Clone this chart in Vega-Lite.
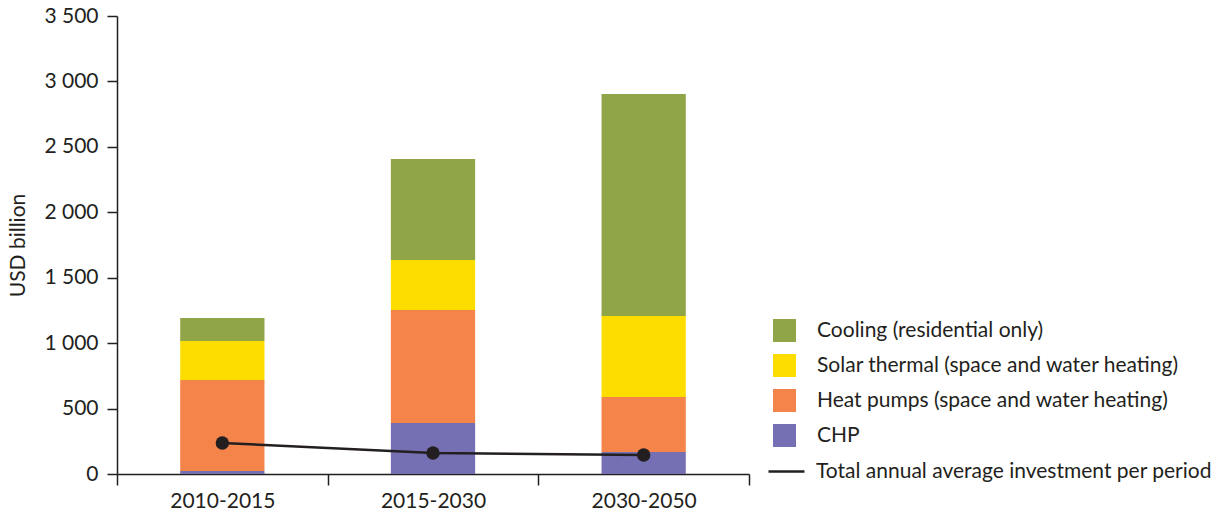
{
  "$schema": "https://vega.github.io/schema/vega-lite/v6.json",
  "width": 632,
  "height": 458,
  "autosize": {"type": "none"},
  "padding": {"left": 117, "top": 16, "right": 463, "bottom": 42},
  "background": "white",
  "config": {
    "view": {"stroke": null},
    "font": "Lato",
    "axis": {"labelColor": "#231f20", "titleColor": "#231f20", "domainColor": "#231f20", "tickColor": "#231f20", "labelFont": "Lato", "titleFont": "Lato"},
    "legend": {"labelFont": "Lato", "labelColor": "#231f20", "padding": 0}
  },
  "datasets": {
    "bars": [
      {"period": "2010-2015", "category": "CHP", "stack": 1, "value": 22},
      {"period": "2010-2015", "category": "Heat pumps (space and water heating)", "stack": 2, "value": 696},
      {"period": "2010-2015", "category": "Solar thermal (space and water heating)", "stack": 3, "value": 298},
      {"period": "2010-2015", "category": "Cooling (residential only)", "stack": 4, "value": 176},
      {"period": "2015-2030", "category": "CHP", "stack": 1, "value": 390},
      {"period": "2015-2030", "category": "Heat pumps (space and water heating)", "stack": 2, "value": 863},
      {"period": "2015-2030", "category": "Solar thermal (space and water heating)", "stack": 3, "value": 382},
      {"period": "2015-2030", "category": "Cooling (residential only)", "stack": 4, "value": 772},
      {"period": "2030-2050", "category": "CHP", "stack": 1, "value": 168},
      {"period": "2030-2050", "category": "Heat pumps (space and water heating)", "stack": 2, "value": 420},
      {"period": "2030-2050", "category": "Solar thermal (space and water heating)", "stack": 3, "value": 619},
      {"period": "2030-2050", "category": "Cooling (residential only)", "stack": 4, "value": 1696}
    ],
    "total": [
      {"period": "2010-2015", "series": "Total annual average investment per period", "value": 237},
      {"period": "2015-2030", "series": "Total annual average investment per period", "value": 160},
      {"period": "2030-2050", "series": "Total annual average investment per period", "value": 145}
    ]
  },
  "encoding": {
    "x": {
      "field": "period", "type": "nominal",
      "scale": {"paddingInner": 0, "paddingOuter": 0},
      "axis": {"title": null, "labelAngle": 0, "labelFontSize": 21, "labelPadding": 5, "tickSize": 11, "tickBand": "extent", "domainWidth": 1.5, "tickWidth": 1.5}
    }
  },
  "layer": [
    {
      "data": {"name": "bars"},
      "mark": {"type": "bar", "width": {"band": 0.4}},
      "encoding": {
        "y": {
          "field": "value", "type": "quantitative", "stack": "zero",
          "scale": {"domain": [0, 3500]},
          "axis": {"title": "USD billion", "titleFontSize": 21, "titleFontWeight": "normal", "titlePadding": 15, "values": [0, 500, 1000, 1500, 2000, 2500, 3000, 3500], "labelExpr": "replace(format(datum.value, ','), ',', ' ')", "labelFontSize": 21, "labelPadding": 9, "tickSize": 10, "grid": false, "domainWidth": 1.5, "tickWidth": 1.5}
        },
        "order": {"field": "stack", "type": "quantitative", "sort": "ascending"},
        "color": {
          "field": "category", "type": "nominal",
          "scale": {"domain": ["Cooling (residential only)", "Solar thermal (space and water heating)", "Heat pumps (space and water heating)", "CHP"], "range": ["#8fa547", "#fddd00", "#f4844a", "#7570b3"]},
          "legend": {"title": null, "orient": "none", "legendX": 656, "legendY": 303, "symbolType": "square", "symbolSize": 529, "symbolStrokeWidth": 0, "symbolOpacity": 1, "labelFontSize": 21, "labelOffset": 21, "rowPadding": 12, "labelLimit": 500}
        }
      }
    },
    {
      "data": {"name": "total"},
      "mark": {"type": "line", "color": "#231f20", "strokeWidth": 2.5},
      "encoding": {
        "y": {"field": "value", "type": "quantitative"},
        "stroke": {
          "field": "series", "type": "nominal",
          "scale": {"range": ["#231f20"]},
          "legend": {"title": null, "orient": "none", "legendX": 650, "legendY": 436, "symbolType": "stroke", "symbolSize": 1296, "symbolStrokeWidth": 2.5, "labelFontSize": 21, "labelOffset": 10, "labelLimit": 500}
        }
      }
    },
    {
      "data": {"name": "total"},
      "mark": {"type": "circle", "color": "#231f20", "size": 180, "opacity": 1},
      "encoding": {"y": {"field": "value", "type": "quantitative"}}
    }
  ]
}
